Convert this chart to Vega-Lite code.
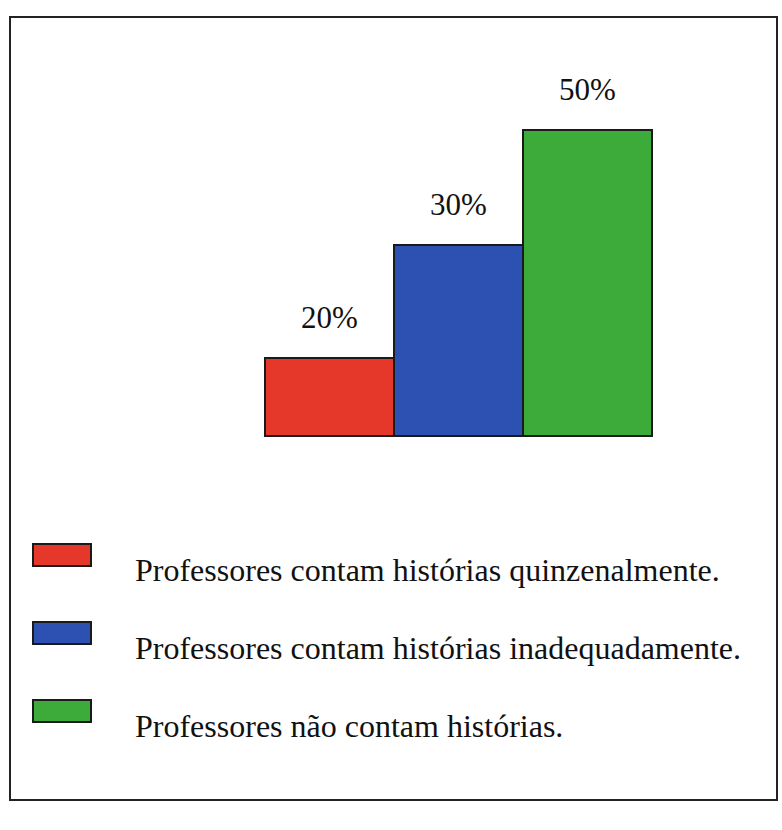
{
  "$schema": "https://vega.github.io/schema/vega-lite/v6.json",
  "width": 767,
  "height": 783,
  "autosize": {"type": "none"},
  "padding": {"left": 10, "top": 17, "right": 5, "bottom": 30},
  "background": "white",
  "config": {"view": {"stroke": "#222222", "strokeWidth": 2}, "font": "Liberation Serif"},
  "data": {
    "values": [
      {"categoria": "Professores contam histórias quinzenalmente.", "valor": 0.2},
      {"categoria": "Professores contam histórias inadequadamente.", "valor": 0.3},
      {"categoria": "Professores não contam histórias.", "valor": 0.5}
    ]
  },
  "encoding": {
    "x": {
      "field": "categoria",
      "type": "nominal",
      "sort": null,
      "axis": null,
      "scale": {"range": [255, 642], "paddingInner": 0, "paddingOuter": 0}
    },
    "y": {
      "field": "valor",
      "type": "quantitative",
      "axis": null,
      "scale": {"domain": [0, 0.2, 0.3, 0.5], "range": [419, 341, 228, 113], "nice": false, "zero": false}
    }
  },
  "layer": [
    {
      "mark": {"type": "bar", "stroke": "#1a1a1a", "strokeWidth": 2, "opacity": 1},
      "encoding": {
        "y2": {"datum": 0},
        "color": {
          "field": "categoria",
          "type": "nominal",
          "sort": null,
          "scale": {
            "domain": [
              "Professores contam histórias quinzenalmente.",
              "Professores contam histórias inadequadamente.",
              "Professores não contam histórias."
            ],
            "range": ["#e5382a", "#2d50b3", "#3dab3a"]
          },
          "legend": {
            "title": null,
            "orient": "none",
            "legendX": 22,
            "legendY": 524,
            "padding": 0,
            "symbolType": "M-1,-0.931H1V-0.173H-1Z",
            "symbolSize": 3364,
            "symbolStrokeColor": "#1a1a1a",
            "symbolStrokeWidth": 2,
            "symbolOpacity": 1,
            "labelFont": "Liberation Serif",
            "labelFontSize": 32,
            "labelColor": "#111111",
            "labelOffset": 43,
            "labelLimit": 0,
            "rowPadding": 31
          }
        }
      }
    },
    {
      "mark": {"type": "text", "dy": -30, "baseline": "alphabetic", "fontSize": 31, "font": "Liberation Serif", "color": "#111111"},
      "encoding": {
        "text": {"field": "valor", "type": "quantitative", "format": ".0%"}
      }
    }
  ]
}
